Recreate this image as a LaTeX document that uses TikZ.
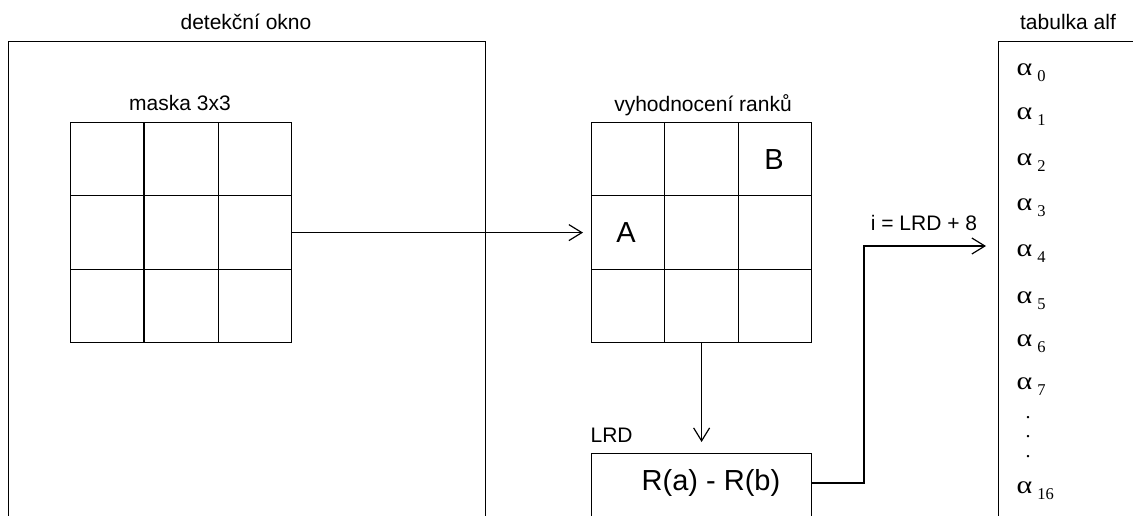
\documentclass[tikz,border=0pt]{standalone}
\usepackage{fontspec}
\setmainfont{Liberation Sans}
\newfontfamily\serifgr{Liberation Serif}
\usetikzlibrary{arrows.meta,calc}
\begin{document}
\begin{tikzpicture}[x=1pt,y=-1pt, line width=1.2pt,
  lbl/.style={font=\fontsize{21}{24}\selectfont, inner sep=0pt},
  big/.style={font=\fontsize{29}{32}\selectfont, inner sep=0pt},
  gridbox/.style={draw, minimum width=220pt, minimum height=220pt, anchor=north west, inner sep=0pt},
  tallbox/.style={draw, anchor=north west, inner sep=0pt, minimum height=540pt},
  arr/.style={-{Straight Barb[length=13pt,width=16pt,line width=1.2pt]}},
  alf/.style={font=\serifgr\fontsize{25}{27}\selectfont, anchor=base west, inner sep=0pt},
  dotlbl/.style={font=\serifgr\fontsize{20}{20}\selectfont, anchor=base, inner sep=0pt}]
\useasboundingbox (0,0) rectangle (1133,515);
\clip (0,0) rectangle (1133,515);

% detection window
\node[tallbox, minimum width=477pt] (det) at (8,41) {};
\node[lbl] (dett) at (246,22) {detekční okno};

% mask 3x3
\node[gridbox, minimum width=221pt] (mask) at (70,122) {};
\node[lbl] (maskt) at (180,103) {maska 3x3};
\foreach \f in {1/3,2/3}{
  \draw ($(mask.north west)!\f!(mask.north east)$) -- ($(mask.south west)!\f!(mask.south east)$);
  \draw ($(mask.north west)!\f!(mask.south west)$) -- ($(mask.north east)!\f!(mask.south east)$);
}

% rank evaluation
\node[gridbox] (rank) at (591,122) {};
\node[lbl] (rankt) at (703,105) {vyhodnocení ranků};
\foreach \f in {1/3,2/3}{
  \draw ($(rank.north west)!\f!(rank.north east)$) -- ($(rank.south west)!\f!(rank.south east)$);
  \draw ($(rank.north west)!\f!(rank.south west)$) -- ($(rank.north east)!\f!(rank.south east)$);
}
\node[big] (A) at (626,233) {A};
\node[big] (B) at (774,160) {B};

% LRD box
\node[draw, anchor=north west, inner sep=0pt, minimum width=220pt, minimum height=120pt] (lrd) at (591,453) {};
\node[lbl, anchor=west] (lrdt) at (590,435) {LRD};
\node[big] (rab) at (711,483) {R(a) - R(b)};

% table of alphas
\node[tallbox, minimum width=220pt] (tab) at (998,41) {};
\node[lbl] (tabt) at (1068,22) {tabulka alf};
\foreach \i/\y in {0/75,1/119,2/165,3/210,4/256,5/303,6/346,7/389,16/493}{
  \node[alf] (a\i) at (1016,\y) {\scalebox{1.2}[1]{α}\hspace{5pt}\raisebox{-6pt}{\fontsize{16.5}{16.5}\selectfont\i}};
}
\foreach \n/\y in {1/418,2/437,3/457}{
  \node[dotlbl] (dot\n) at (1028,\y) {.};
}

% connectors
\coordinate (bend) at (864,246);
\draw[arr, shorten >=8pt] (mask.east) -- (rank.west);
\draw[arr, shorten >=11pt] (rank.south) -- (lrd.north);
\draw[arr, shorten >=12pt] (rab -| lrd.east) -| (bend) -- (bend -| tab.west);
\node[lbl] (it) at (924,223) {i = LRD + 8};
\end{tikzpicture}
\end{document}
